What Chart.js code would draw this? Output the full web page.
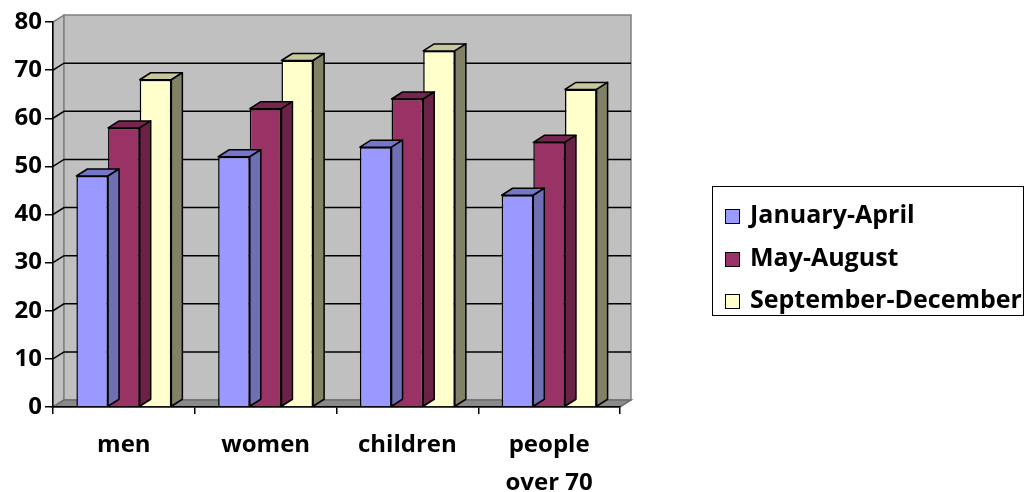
<!DOCTYPE html>
<html>
<head>
<meta charset="utf-8">
<script src="https://cdn.jsdelivr.net/npm/chart.js@4/dist/chart.umd.min.js"></script>
<style>
  body { margin: 0; background: #fff; }
  #wrap { position: relative; width: 1026px; height: 492px; }
  #legend {
    position: absolute; left: 712px; top: 186px; width: 310px; height: 128px;
    border: 1.5px solid #000; font: bold 25px "Open Sans", sans-serif; color: #000;
  }
  #legend .item { position: absolute; left: 12px; height: 30px; line-height: 30px; white-space: nowrap; }
  #legend .box { display: inline-block; width: 13px; height: 13px; border: 1.5px solid #000; margin-right: 10px; vertical-align: -1px; }
</style>
</head>
<body>
<div id="wrap">
  <canvas id="myChart" width="1026" height="492"></canvas>
  <div id="legend"></div>
</div>
<script>
const categories = ['men', 'women', 'children', ['people', 'over 70']];
const seriesNames = ['January-April', 'May-August', 'September-December'];
const janApr = [48, 52, 54, 44];
const mayAug = [58, 62, 64, 55];
const sepDec = [68, 72, 74, 66];
const yTicks = [0, 10, 20, 30, 40, 50, 60, 70, 80];

// colours for front / top / side of each series
const fronts = ['#9999ff', '#993366', '#ffffcc'];
const tops = ['#7676c8', '#76264e', '#c9c79d'];
const sides = ['#6f6fb4', '#6a2246', '#818166'];

const depth = {dx: 11, dy: -7};

const wall3d = {
    id: 'wall3d',
    beforeDraw(chart) {
        const ctx = chart.ctx;
        const ca = chart.chartArea;
        const y = chart.scales.y;
        const {dx, dy} = depth;
        ctx.save();
        ctx.lineWidth = 1.5;
        // side wall
        ctx.fillStyle = '#c0c0c0';
        ctx.strokeStyle = '#808080';
        ctx.beginPath();
        ctx.moveTo(ca.left, ca.bottom);
        ctx.lineTo(ca.left, ca.top);
        ctx.lineTo(ca.left + dx, ca.top + dy);
        ctx.lineTo(ca.left + dx, ca.bottom + dy);
        ctx.closePath();
        ctx.fill();
        ctx.stroke();
        // back wall
        ctx.fillRect(ca.left + dx, ca.top + dy, ca.right - ca.left, ca.bottom - ca.top);
        ctx.strokeRect(ca.left + dx, ca.top + dy, ca.right - ca.left, ca.bottom - ca.top);
        // floor
        ctx.fillStyle = '#8a8a8a';
        ctx.strokeStyle = '#6e6e6e';
        ctx.beginPath();
        ctx.moveTo(ca.left, ca.bottom);
        ctx.lineTo(ca.right, ca.bottom);
        ctx.lineTo(ca.right + dx, ca.bottom + dy);
        ctx.lineTo(ca.left + dx, ca.bottom + dy);
        ctx.closePath();
        ctx.fill();
        ctx.stroke();
        // grid lines on walls
        ctx.strokeStyle = '#000';
        ctx.lineWidth = 1.5;
        yTicks.slice(1, -1).forEach(v => {
            const py = y.getPixelForValue(v);
            ctx.beginPath();
            ctx.moveTo(ca.left, py);
            ctx.lineTo(ca.left + dx, py + dy);
            ctx.lineTo(ca.right + dx, py + dy);
            ctx.stroke();
        });
        ctx.restore();
    },
    afterDatasetDraw(chart, args) {
        const ctx = chart.ctx;
        const i = args.index;
        const {dx, dy} = depth;
        ctx.save();
        ctx.lineWidth = 1.5;
        ctx.strokeStyle = '#000';
        ctx.lineJoin = 'round';
        args.meta.data.forEach(bar => {
            const l = bar.x - bar.width / 2;
            const r = bar.x + bar.width / 2;
            // top face
            ctx.fillStyle = tops[i];
            ctx.beginPath();
            ctx.moveTo(l, bar.y);
            ctx.lineTo(r, bar.y);
            ctx.lineTo(r + dx, bar.y + dy);
            ctx.lineTo(l + dx, bar.y + dy);
            ctx.closePath();
            ctx.fill();
            ctx.stroke();
            // side face
            ctx.fillStyle = sides[i];
            ctx.beginPath();
            ctx.moveTo(r, bar.y);
            ctx.lineTo(r + dx, bar.y + dy);
            ctx.lineTo(r + dx, bar.base + dy);
            ctx.lineTo(r, bar.base);
            ctx.closePath();
            ctx.fill();
            ctx.stroke();
        });
        ctx.restore();
    }
};

const tickFont = {family: '"Open Sans", sans-serif', size: 24, weight: 'bold'};
const values = [janApr, mayAug, sepDec];

const ctx = document.getElementById('myChart').getContext('2d');
const myChart = new Chart(ctx, {
    type: 'bar',
    data: {
        labels: categories,
        datasets: seriesNames.map((name, i) => ({
            label: name,
            data: values[i],
            backgroundColor: fronts[i],
            borderColor: '#000',
            borderWidth: 1.5,
            barPercentage: 1,
            categoryPercentage: 0.67
        }))
    },
    options: {
        responsive: false,
        animation: false,
        devicePixelRatio: 1,
        layout: {padding: {left: 0, top: 22, right: 406, bottom: 0}},
        plugins: {legend: {display: false}, tooltip: {enabled: false}},
        scales: {
            y: {
                min: 0,
                max: 80,
                afterFit: (scale) => { scale.width = 53; },
                afterBuildTicks: (scale) => { scale.ticks = yTicks.map(v => ({value: v})); },
                ticks: {color: '#000', font: tickFont, padding: 3},
                grid: {drawOnChartArea: false, tickLength: 8, tickColor: '#000', lineWidth: 1.5},
                border: {color: '#000', width: 1.5}
            },
            x: {
                afterFit: (scale) => { scale.height = 85; },
                ticks: {color: '#000', font: {...tickFont, lineHeight: 1.58}, padding: 12, maxRotation: 0},
                grid: {drawOnChartArea: false, tickLength: 7, tickColor: '#000', lineWidth: 1.5},
                border: {color: '#000', width: 1.5}
            }
        }
    },
    plugins: [wall3d]
});

// legend built from the series
const legend = document.getElementById('legend');
seriesNames.forEach((name, i) => {
    const item = document.createElement('div');
    item.className = 'item';
    item.style.top = (11 + i * 42.5) + 'px';
    const box = document.createElement('span');
    box.className = 'box';
    box.style.background = fronts[i];
    item.appendChild(box);
    item.appendChild(document.createTextNode(name));
    legend.appendChild(item);
});
</script>
</body>
</html>
